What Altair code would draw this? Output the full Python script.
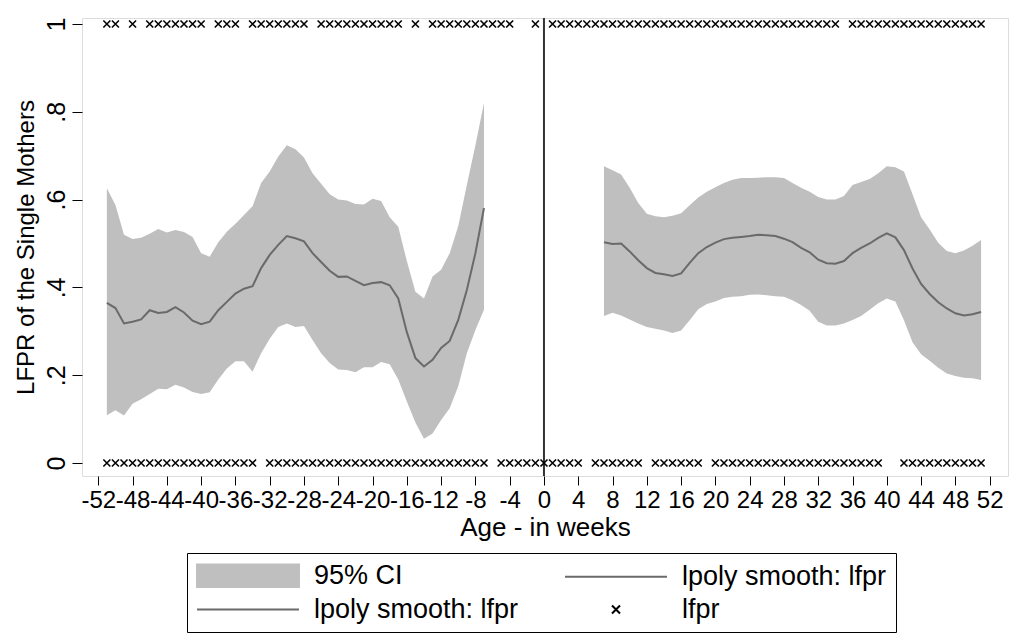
import altair as alt
import pandas as pd

FONT = "Liberation Sans"

# Local polynomial fit and 95% CI, weeks before birth
pre_weeks = list(range(-51, -6))
pre_fit = [0.365, 0.353, 0.318, 0.322, 0.327, 0.348, 0.342, 0.344, 0.355, 0.343,
           0.324, 0.316, 0.322, 0.348, 0.367, 0.386, 0.397, 0.403, 0.444, 0.474,
           0.497, 0.517, 0.512, 0.505, 0.478, 0.458, 0.438, 0.424, 0.425, 0.415,
           0.405, 0.410, 0.412, 0.405, 0.375, 0.298, 0.239, 0.220, 0.235, 0.262,
           0.278, 0.326, 0.394, 0.478, 0.581]
pre_lo = [0.109, 0.120, 0.108, 0.135, 0.145, 0.157, 0.169, 0.168, 0.178, 0.172,
          0.162, 0.157, 0.161, 0.190, 0.215, 0.232, 0.232, 0.208, 0.250, 0.283,
          0.310, 0.318, 0.310, 0.312, 0.280, 0.250, 0.228, 0.213, 0.212, 0.207,
          0.218, 0.218, 0.230, 0.225, 0.190, 0.140, 0.092, 0.055, 0.067, 0.098,
          0.125, 0.175, 0.250, 0.303, 0.349]
pre_hi = [0.626, 0.588, 0.520, 0.510, 0.513, 0.522, 0.533, 0.525, 0.531, 0.526,
          0.515, 0.478, 0.470, 0.503, 0.527, 0.545, 0.565, 0.585, 0.638, 0.664,
          0.698, 0.724, 0.715, 0.696, 0.660, 0.636, 0.612, 0.600, 0.598, 0.590,
          0.589, 0.602, 0.597, 0.560, 0.538, 0.460, 0.390, 0.375, 0.425, 0.440,
          0.478, 0.540, 0.633, 0.724, 0.820]

# Local polynomial fit and 95% CI, weeks after birth
post_weeks = list(range(7, 52))
post_fit = [0.503, 0.499, 0.500, 0.482, 0.462, 0.444, 0.433, 0.430, 0.426, 0.432,
            0.456, 0.478, 0.492, 0.502, 0.510, 0.513, 0.515, 0.517, 0.520, 0.519,
            0.517, 0.511, 0.503, 0.490, 0.480, 0.463, 0.455, 0.454, 0.460, 0.478,
            0.490, 0.500, 0.513, 0.523, 0.514, 0.485, 0.443, 0.408, 0.385, 0.366,
            0.352, 0.341, 0.336, 0.339, 0.344]
post_lo = [0.335, 0.342, 0.336, 0.327, 0.318, 0.310, 0.306, 0.302, 0.296, 0.302,
           0.325, 0.350, 0.362, 0.368, 0.376, 0.379, 0.380, 0.383, 0.384, 0.382,
           0.380, 0.379, 0.371, 0.360, 0.347, 0.322, 0.313, 0.313, 0.318, 0.326,
           0.335, 0.349, 0.364, 0.375, 0.368, 0.325, 0.275, 0.248, 0.233, 0.217,
           0.204, 0.198, 0.194, 0.193, 0.189]
post_hi = [0.676, 0.667, 0.657, 0.627, 0.592, 0.568, 0.562, 0.560, 0.563, 0.569,
           0.587, 0.605, 0.618, 0.628, 0.638, 0.645, 0.649, 0.649, 0.650, 0.651,
           0.651, 0.649, 0.638, 0.627, 0.618, 0.606, 0.600, 0.600, 0.608, 0.633,
           0.640, 0.647, 0.660, 0.676, 0.674, 0.664, 0.612, 0.560, 0.532, 0.502,
           0.483, 0.478, 0.484, 0.495, 0.508]

# Weeks with observed lfpr = 1 and lfpr = 0
weeks_lfpr_one = ([-51, -50, -48] + list(range(-46, -39)) + list(range(-38, -35))
                  + list(range(-34, -27)) + list(range(-26, -16)) + [-15]
                  + list(range(-13, -3)) + [-1] + list(range(1, 35))
                  + list(range(36, 52)))
weeks_lfpr_zero = (list(range(-51, -33)) + list(range(-32, -6)) + list(range(-5, 5))
                   + list(range(6, 12)) + list(range(13, 19)) + list(range(20, 40))
                   + list(range(42, 52)))

# Legend entries
legend_keys = ["ci", "fit_a", "fit_b", "obs"]
legend_labels = ["95% CI", "lpoly smooth: lfpr", "lpoly smooth: lfpr", "lfpr"]

fit_df = pd.concat([
    pd.DataFrame({"week": pre_weeks, "fit": pre_fit, "lo": pre_lo, "hi": pre_hi, "seg": "pre"}),
    pd.DataFrame({"week": post_weeks, "fit": post_fit, "lo": post_lo, "hi": post_hi, "seg": "post"}),
])
obs_df = pd.concat([
    pd.DataFrame({"week": weeks_lfpr_one, "lfpr": 1}),
    pd.DataFrame({"week": weeks_lfpr_zero, "lfpr": 0}),
])
legend_df = pd.DataFrame({"key": legend_keys})

band_grey = "#bfbfbf"
fit_grey = "#6a6a6a"
x_path = "M-1,-1L1,1M-1,1L1,-1"

# Legend key glyphs: drawn in units of half the key slot (12.5 px), a swatch 102 px wide
swatch_rect = "M-1,-0.9H7.16V0.9H-1Z"
swatch_line = "M-1,0H7.16"
swatch_x = "M2.76,-0.32L3.4,0.32M2.76,0.32L3.4,-0.32"

xscale = alt.Scale(domain=[-53.9, 54.14], nice=False, zero=False)
yscale = alt.Scale(domain=[-0.0296, 1.0137], nice=False, zero=False)

xaxis = alt.Axis(
    values=list(range(-52, 53, 4)), title="Age - in weeks", grid=False, domain=False,
    tickSize=9, tickColor="black", labelFont=FONT, labelFontSize=24, labelColor="black",
    labelPadding=3, labelExpr="'' + datum.value",
    titleFont=FONT, titleFontSize=26, titleFontWeight="normal",
    titleColor="black", titlePadding=2, labelOverlap=False, labelFlush=False,
)
yaxis = alt.Axis(
    values=[0, 0.2, 0.4, 0.6, 0.8, 1], title="LFPR of the Single Mothers", grid=False,
    domain=False, tickSize=10, tickColor="black", labelFont=FONT, labelFontSize=25,
    labelColor="black", labelAngle=-90, labelAlign="center", labelBaseline="bottom",
    labelPadding=3, labelExpr="datum.value == 0 ? '0' : datum.value == 1 ? '1' : '.' + round(datum.value * 10)",
    titleFont=FONT, titleFontSize=24, titleFontWeight="normal", titleColor="black",
    titlePadding=6, labelOverlap=False, labelFlush=False,
)

band = alt.Chart(fit_df).mark_area(color=band_grey, opacity=1).encode(
    x=alt.X("week:Q", scale=xscale, axis=xaxis),
    y=alt.Y("lo:Q", scale=yscale, axis=yaxis),
    y2="hi:Q",
    detail="seg:N",
)

fit = alt.Chart(fit_df).mark_line(color=fit_grey, strokeWidth=2).encode(
    x=alt.X("week:Q", scale=xscale, axis=xaxis),
    y=alt.Y("fit:Q", scale=yscale, axis=yaxis),
    detail="seg:N",
)

points = alt.Chart(obs_df).mark_point(
    shape=x_path, filled=False, color="black", size=49, strokeWidth=1.6, opacity=1
).encode(
    x=alt.X("week:Q", scale=xscale, axis=xaxis),
    y=alt.Y("lfpr:Q", scale=yscale, axis=yaxis),
)

birth = alt.Chart(pd.DataFrame({"week": [0]})).mark_rule(color="#333333", strokeWidth=2).encode(
    x=alt.X("week:Q", scale=xscale, axis=xaxis),
)

label_expr = " : ".join(
    f"datum.value == '{k}' ? '{t}'" for k, t in zip(legend_keys, legend_labels)
) + " : ''"

legend = alt.Legend(
    orient="none", legendX=105, legendY=535, columns=2, title=None,
    labelExpr=label_expr, labelFont=FONT, labelFontSize=27, labelColor="black",
    labelLimit=500, labelOffset=91, columnPadding=42, rowPadding=4, padding=9,
    symbolSize=625, symbolStrokeWidth=2,
    strokeColor="black", fillColor="white",
)

key_layer = alt.Chart(legend_df).mark_point(filled=True, strokeWidth=2, opacity=1).encode(
    shape=alt.Shape("key:N", scale=alt.Scale(
        domain=legend_keys, range=[swatch_rect, swatch_line, swatch_line, swatch_x]),
        legend=legend),
    fill=alt.Fill("key:N", scale=alt.Scale(
        domain=legend_keys, range=[band_grey, "transparent", "transparent", "transparent"]),
        legend=legend),
    stroke=alt.Stroke("key:N", scale=alt.Scale(
        domain=legend_keys, range=[band_grey, fit_grey, fit_grey, "black"]), legend=legend),
).transform_filter("false")

chart = alt.layer(band, fit, birth, points, key_layer).properties(
    width=926, height=458,
    autosize=alt.AutoSizeParams(type="none"),
    padding={"left": 82, "top": 18, "right": 9, "bottom": 166},
).configure_view(
    stroke="black", strokeWidth=1.5,
).configure_axis(
    labelOverlap=False,
).configure(background="white")

chart.save("out.html", embed_options={"renderer": "svg", "actions": False})
